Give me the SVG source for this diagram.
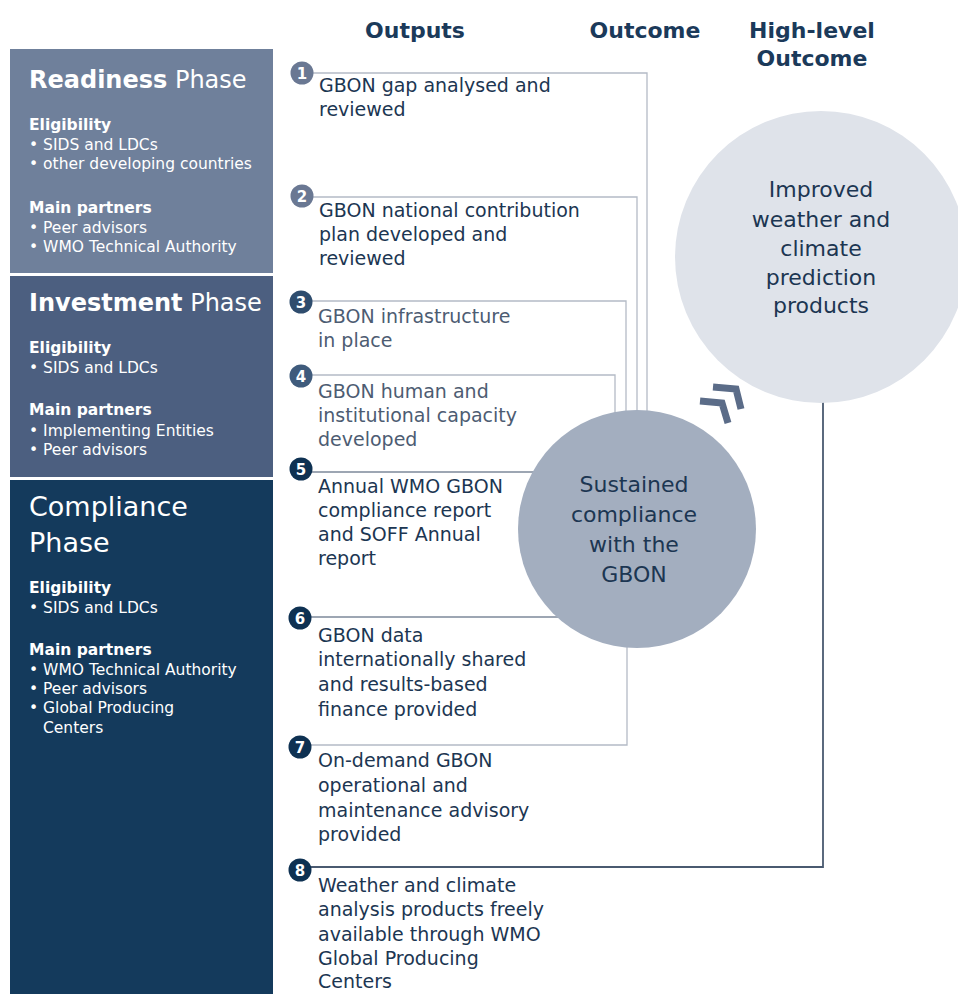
<svg xmlns="http://www.w3.org/2000/svg" width="958" height="994" viewBox="0 0 958 994">
<style>
text{font-family:"DejaVu Sans","Liberation Sans",sans-serif}
.ttl{font-size:24px;fill:#ffffff}
.ttc{font-size:27px;fill:#ffffff}
.ph{font-size:15.5px;fill:#ffffff}
.phb{font-size:15.5px;fill:#ffffff;font-weight:bold}
.hdr{font-size:22px;font-weight:bold;fill:#1b3a5a;text-anchor:middle}
.it{font-size:19px;fill:#1c3652}
.itg{font-size:19px;fill:#4d5c72}
.num{font-size:15px;font-weight:bold;fill:#ffffff;text-anchor:middle}
.ctx{font-size:22px;fill:#1c3652;text-anchor:middle}
.cn{fill:none;stroke:#b4bbc6;stroke-width:1.3}
.cnd{fill:none;stroke:#7d889a;stroke-width:1.3}
.cnk{fill:none;stroke:#4a5a70;stroke-width:1.8}
</style>
<rect width="958" height="994" fill="#ffffff"/>

<g id="readiness-phase">
<rect x="10" y="49" width="263" height="224" fill="#6f809b"/>
<text class="ttl" x="29" y="88"><tspan font-weight="bold">Readiness</tspan> Phase</text>
<text class="phb" x="29" y="130">Eligibility</text>
<text class="ph" x="29" y="150">• SIDS and LDCs</text>
<text class="ph" x="29" y="169">• other developing countries</text>
<text class="phb" x="29" y="213">Main partners</text>
<text class="ph" x="29" y="233">• Peer advisors</text>
<text class="ph" x="29" y="252">• WMO Technical Authority</text>
</g>

<g id="investment-phase">
<rect x="10" y="276" width="263" height="201" fill="#4c5f80"/>
<text class="ttl" x="29" y="311"><tspan font-weight="bold">Investment</tspan> Phase</text>
<text class="phb" x="29" y="353">Eligibility</text>
<text class="ph" x="29" y="373">• SIDS and LDCs</text>
<text class="phb" x="29" y="415">Main partners</text>
<text class="ph" x="29" y="436">• Implementing Entities</text>
<text class="ph" x="29" y="455">• Peer advisors</text>
</g>

<g id="compliance-phase">
<rect x="10" y="480" width="263" height="514" fill="#143a5c"/>
<text class="ttc" x="29" y="516">Compliance</text>
<text class="ttc" x="29" y="552">Phase</text>
<text class="phb" x="29" y="593">Eligibility</text>
<text class="ph" x="29" y="613">• SIDS and LDCs</text>
<text class="phb" x="29" y="655">Main partners</text>
<text class="ph" x="29" y="675">• WMO Technical Authority</text>
<text class="ph" x="29" y="694">• Peer advisors</text>
<text class="ph" x="29" y="713">• Global Producing</text>
<text class="ph" x="43" y="733">Centers</text>
</g>

<g id="headers">
<text class="hdr" x="415" y="38">Outputs</text>
<text class="hdr" x="645" y="38">Outcome</text>
<text class="hdr" x="812" y="38">High-level</text>
<text class="hdr" x="812" y="66">Outcome</text>
</g>

<g id="connectors">
<polyline class="cn" points="305,73 647,73 647,420"/>
<polyline class="cn" points="305,197 637,197 637,420"/>
<polyline class="cn" points="305,301 626,301 626,420"/>
<polyline class="cn" points="305,375 615,375 615,420"/>
<polyline class="cnd" points="305,472 545,472"/>
<polyline class="cnd" points="305,617 565,617"/>
<polyline class="cn" points="305,745 627,745 627,640"/>
<polyline class="cnk" points="305,867 823,867 823,400"/>
</g>

<g id="high-level-outcome">
<circle cx="821" cy="257" r="146" fill="#dfe3ea"/>
<text class="ctx" x="821" y="197">Improved</text>
<text class="ctx" x="821" y="227">weather and</text>
<text class="ctx" x="821" y="256">climate</text>
<text class="ctx" x="821" y="285">prediction</text>
<text class="ctx" x="821" y="313">products</text>
</g>

<g id="arrow">
<polyline points="713,387 736,389 741,409" fill="none" stroke="#5b6c88" stroke-width="7" stroke-linejoin="miter"/>
<polyline points="700,401 722,403 728,423" fill="none" stroke="#5b6c88" stroke-width="7" stroke-linejoin="miter"/>
</g>

<g id="outcome">
<circle cx="637" cy="529" r="119" fill="#a3aebf"/>
<text class="ctx" x="634" y="492">Sustained</text>
<text class="ctx" x="634" y="522">compliance</text>
<text class="ctx" x="634" y="552">with the</text>
<text class="ctx" x="634" y="582">GBON</text>
</g>

<g id="output-1">
<circle cx="302" cy="73" r="11.5" fill="#6a7893"/>
<text class="num" x="302" y="78.5">1</text>
<text class="it" x="319" y="92">GBON gap analysed and</text>
<text class="it" x="319" y="116">reviewed</text>
</g>
<g id="output-2">
<circle cx="302" cy="196" r="11.5" fill="#6a7893"/>
<text class="num" x="302" y="201.5">2</text>
<text class="it" x="319" y="217">GBON national contribution</text>
<text class="it" x="319" y="241">plan developed and</text>
<text class="it" x="319" y="265">reviewed</text>
</g>
<g id="output-3">
<circle cx="301" cy="302" r="11.5" fill="#2f4d6e"/>
<text class="num" x="301" y="307.5">3</text>
<text class="itg" x="318" y="323">GBON infrastructure</text>
<text class="itg" x="318" y="347">in place</text>
</g>
<g id="output-4">
<circle cx="301" cy="376" r="11.5" fill="#3f5b7c"/>
<text class="num" x="301" y="381.5">4</text>
<text class="itg" x="318" y="398">GBON human and</text>
<text class="itg" x="318" y="422">institutional capacity</text>
<text class="itg" x="318" y="446">developed</text>
</g>
<g id="output-5">
<circle cx="301" cy="469" r="11.5" fill="#0e3152"/>
<text class="num" x="301" y="474.5">5</text>
<text class="it" x="318" y="493">Annual WMO GBON</text>
<text class="it" x="318" y="517">compliance report</text>
<text class="it" x="318" y="541">and SOFF Annual</text>
<text class="it" x="318" y="565">report</text>
</g>
<g id="output-6">
<circle cx="300" cy="618" r="11.5" fill="#0e3152"/>
<text class="num" x="300" y="623.5">6</text>
<text class="it" x="318" y="642">GBON data</text>
<text class="it" x="318" y="666">internationally shared</text>
<text class="it" x="318" y="691">and results-based</text>
<text class="it" x="318" y="716">finance provided</text>
</g>
<g id="output-7">
<circle cx="300" cy="747" r="11.5" fill="#0e3152"/>
<text class="num" x="300" y="752.5">7</text>
<text class="it" x="318" y="767">On-demand GBON</text>
<text class="it" x="318" y="792">operational and</text>
<text class="it" x="318" y="817">maintenance advisory</text>
<text class="it" x="318" y="841">provided</text>
</g>
<g id="output-8">
<circle cx="300" cy="870" r="11.5" fill="#0e3152"/>
<text class="num" x="300" y="875.5">8</text>
<text class="it" x="318" y="892">Weather and climate</text>
<text class="it" x="318" y="916">analysis products freely</text>
<text class="it" x="318" y="941">available through WMO</text>
<text class="it" x="318" y="965">Global Producing</text>
<text class="it" x="318" y="988">Centers</text>
</g>
</svg>
